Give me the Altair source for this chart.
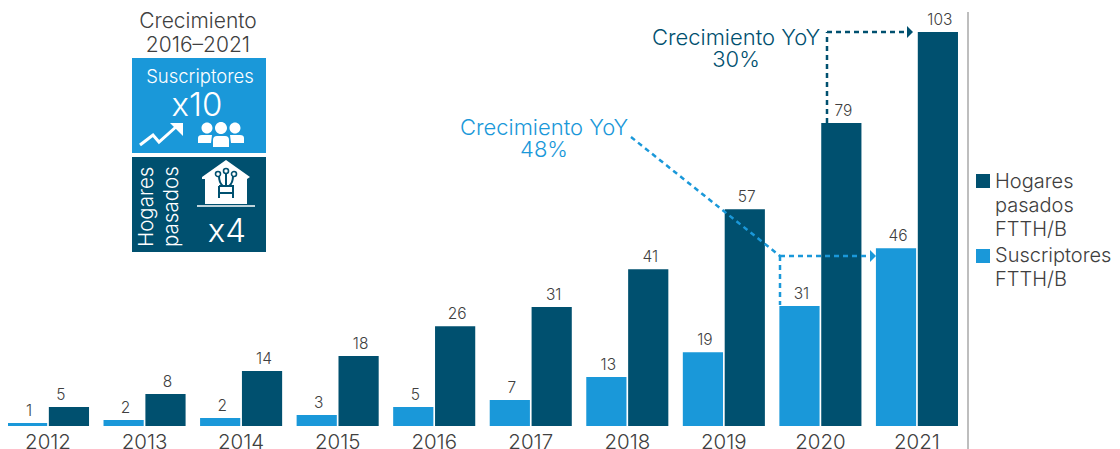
import altair as alt
import pandas as pd

FONT = "Inter"
LIGHT = "#1a98d9"
DARK = "#00506f"
GREY = "#404040"

years = ["2012","2013","2014","2015","2016","2017","2018","2019","2020","2021"]
subs_values = [0.8,1.6,2.1,2.9,5.0,6.8,12.8,19.3,31.4,46.5]
subs_labels = [1,2,2,3,5,7,13,19,31,46]
homes_values = [5.0,8.4,14.4,18.3,26.1,31.1,41.0,56.7,79.2,103.0]
homes_labels = [5,8,14,18,26,31,41,57,79,103]

rows = []
for y, v, l in zip(years, subs_values, subs_labels):
    rows.append({"year": y, "serie": "Suscriptores FTTH/B", "value": v, "label": str(l)})
for y, v, l in zip(years, homes_values, homes_labels):
    rows.append({"year": y, "serie": "Hogares pasados FTTH/B", "value": v, "label": str(l)})
df = pd.DataFrame(rows)

order = ["Suscriptores FTTH/B", "Hogares pasados FTTH/B"]
X = alt.X("year:N", title=None, scale=alt.Scale(range=[-8.27, 957.23], paddingInner=0.15, paddingOuter=0.075),
          axis=alt.Axis(labelFontSize=20.5, labelColor=GREY, labelFont=FONT, labelFontWeight=300, domain=False,
                        ticks=False, labelPadding=6, labelAngle=0, grid=False))
XO = alt.XOffset("serie:N", sort=order, scale=alt.Scale(domain=order, paddingInner=0.04))
Y = alt.Y("value:Q", axis=None, scale=alt.Scale(domain=[0, 109.3], nice=False))

bars = alt.Chart(df).mark_bar(stroke=None).encode(
    x=X, xOffset=XO, y=Y,
    color=alt.Color("serie:N", scale=alt.Scale(domain=order, range=[LIGHT, DARK]), legend=None),
)
def lab(dx):
    return alt.Chart(df).mark_text(baseline="bottom", dy=-4, dx=dx, fontSize=15.5, font=FONT, fontWeight=300, color=GREY).encode(
        x=X, xOffset=XO, y=Y, text="label:N")
lab_main = lab(2).transform_filter("!(datum.year == '2012' && datum.serie == 'Hogares pasados FTTH/B')")
lab_five = lab(-8).transform_filter("datum.year == '2012' && datum.serie == 'Hogares pasados FTTH/B'")

# all helpers take page coordinates and move them into the plot's frame
O = 8
one = pd.DataFrame({"a": [0]})
def txt(t, x, y, color=GREY, size=20, align="center", angle=None, weight=300, lh=None):
    kw = {}
    if angle is not None:
        kw["angle"] = angle
    if lh:
        kw["lineHeight"] = lh
    return alt.Chart(one).mark_text(
        text=t, lineBreak="\n", align=align, baseline="middle", fontSize=size, font=FONT, fontWeight=weight, color=color, **kw
    ).encode(x=alt.value(x - O), y=alt.value(y - O))

def rect(x, x2, y, y2, color):
    return alt.Chart(one).mark_rect(color=color).encode(
        x=alt.value(x - O), x2=alt.value(x2 - O), y=alt.value(y - O), y2=alt.value(y2 - O))

def rule(x, x2, y, y2, color, width=2.5, dash=(5, 4)):
    m = {"color": color, "strokeWidth": width}
    if dash:
        m["strokeDash"] = list(dash)
    return alt.Chart(one).mark_rule(**m).encode(
        x=alt.value(x - O), x2=alt.value(x2 - O), y=alt.value(y - O), y2=alt.value(y2 - O))

def icon(path, x, y, fill="white", stroke=None, sw=0):
    kw = dict(shape=path, size=4, opacity=1, strokeWidth=sw)
    if stroke:
        kw.update(stroke=stroke, filled=False)
    else:
        kw.update(fill=fill, filled=True)
    return alt.Chart(one).mark_point(**kw).encode(x=alt.value(x - O), y=alt.value(y - O))

def circ(cx, cy, r):
    return f"M{cx-r},{cy}a{r},{r} 0 1,0 {2*r},0a{r},{r} 0 1,0 {-2*r},0Z"

layers = [bars, lab_main, lab_five]
# separator
layers.append(rule(968, 968, 12, 449, "#a8a8a8", width=1.5, dash=None))
# left panel
layers += [
    txt("Crecimiento\n2016–2021", 198, 22, size=21, lh=24),
    rect(132, 266, 58, 153, LIGHT),
    rect(132, 266, 157, 252, DARK),
    txt("Suscriptores", 200, 77, color="white", size=18.5),
    txt("x10", 197, 106, color="white", size=33),
    txt("Hogares", 147, 247, color="white", size=20.5, align="left", angle=270),
    txt("pasados", 172, 247, color="white", size=20.5, align="left", angle=270),
    txt("x4", 227, 232, color="white", size=33),
]
# trend arrow
layers.append(icon("M-20,10L-7,0L-1,7L17,-9", 160, 135, stroke="white", sw=3))
layers.append(icon("M10,-12L23,-12L23,1Z", 160, 135))
# people
layers.append(icon(circ(-14,-8,5.5)+circ(0,-8,6)+circ(14,-8,5.5)
                   +"M-23,7L-23,2Q-23,-1 -19,-1L-9,-1L-10,7Z"
                   +"M23,7L23,2Q23,-1 19,-1L9,-1L10,7Z"
                   +"M-8,11L-8,4Q-8,0 -4,0L4,0Q8,0 8,4L8,11Z", 221, 136))
# house
layers.append(icon("M0,-22L24,-5L21,-3L21,22L-21,22L-21,-3L-24,-3L-24,-5Z", 226, 182))
layers.append(rule(197, 255, 206, 206, "white", width=1.5, dash=None))
for pth in ["M0,-8L0,4M-7,-6Q-7,1 -3,4M7,-6Q7,1 3,4M-7,4L7,4L7,16M-7,4L-7,16M-7,11L7,11"]:
    layers.append(icon(pth, 226, 182, stroke=DARK, sw=2))
layers.append(icon(circ(0,-11,2.5)+circ(-8,-8,2.5)+circ(8,-8,2.5), 226, 182, stroke=DARK, sw=1.6))
# annotations
layers += [
    txt("Crecimiento YoY\n30%", 736, 38, color=DARK, size=22, lh=22),
    rule(827, 827, 123, 32, DARK),
    rule(827, 907, 32, 32, DARK),
    icon("M-3,-6L3,0L-3,6Z", 910, 32, fill=DARK),
    txt("Crecimiento YoY\n48%", 544, 128, color=LIGHT, size=22, lh=22),
    rule(631, 780, 137, 256, LIGHT),
    rule(780, 870, 256, 256, LIGHT),
    rule(780, 780, 256, 305, LIGHT),
    icon("M-3,-6L3,0L-3,6Z", 873, 256, fill=LIGHT),
]
# legend
layers += [
    rect(976, 990, 174, 188, DARK),
    txt("Hogares\npasados\nFTTH/B", 995, 182, align="left", size=20, lh=24),
    rect(976, 990, 249, 263, LIGHT),
    txt("Suscriptores\nFTTH/B", 995, 256, align="left", size=20, lh=24),
]

chart = alt.layer(*layers).properties(
    width=1104, height=418,
    padding={"left": 0, "top": 0, "right": 0, "bottom": 23},
    autosize=alt.AutoSizeParams(type="none"),
    background="white",
).configure_view(stroke=None)

chart.save("out.html", embed_options={"renderer": "svg", "actions": False})
